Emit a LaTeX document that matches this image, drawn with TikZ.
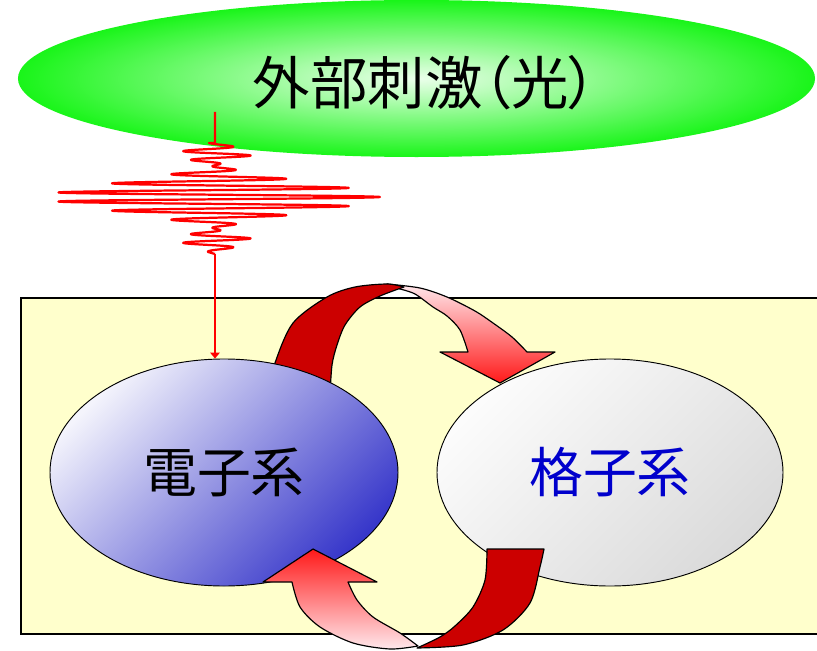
\documentclass[tikz,border=0pt]{standalone}
\usepackage{fontspec}
\setmainfont{Noto Sans CJK JP}[RawFeature=+palt]
\usetikzlibrary{shapes.geometric,arrows.meta}
\definecolor{arrowdark}{RGB}{204,0,0}
\definecolor{arrowpink}{RGB}{255,232,236}
\definecolor{arrowred}{RGB}{255,25,25}
\definecolor{boxyellow}{RGB}{255,255,204}
\definecolor{latticeblue}{RGB}{0,0,204}
\definecolor{greenin}{RGB}{235,255,235}
\definecolor{greenout}{RGB}{25,245,25}
\definecolor{elecin}{RGB}{244,244,252}
\definecolor{elecout}{RGB}{55,55,202}
\definecolor{latin}{RGB}{252,252,252}
\definecolor{latout}{RGB}{218,218,218}
\tikzset{
  bigtext/.style={font=\fontsize{46}{52}\selectfont},
  sysellipse/.style={ellipse, draw=black, line width=0.8pt, inner sep=0pt,
     minimum height=6.81cm, bigtext},
  arrowline/.style={draw=black, line width=1pt, line join=round},
  pinkpart/.style={arrowline, shade},
  darkpart/.style={arrowline, fill=arrowdark},
  wavestroke/.style={draw=red, line width=1.9pt, line join=round},
  lightarrow/.style={draw=red, line width=1.6pt, -{Triangle[length=5pt,width=8pt]}},
}
\begin{document}
\begin{tikzpicture}[x=0.03cm, y=-0.03cm,
  declare function={amp(\t)=165*exp(-min(((\t-197)/20)^2,15))
     -38*exp(-min(((\t-155)/10)^2,15))-38*exp(-min(((\t-239)/10)^2,15));}]
\useasboundingbox (0,0) rectangle (817,651);

% external stimulus
\node[ellipse, inner sep=0pt, minimum width=23.91cm, minimum height=4.71cm,
      inner color=greenin, outer color=greenout] (ext) at (416.5,78.5) {};
\node[font=\fontsize{49}{54}\selectfont] (extlabel) at (425,83) {外部刺激（光）};

% box
\path[fill=boxyellow, draw=black, line width=1.3pt] (21,298) rectangle (830,634);

% upper curved arrow (behind the ellipses)
\path[pinkpart, top color=arrowpink, bottom color=arrowred]
  plot[smooth] coordinates {(387,284) (420,288) (447,297) (475,311) (493,323) (512,337) (527,352)}
  -- (555,352) -- (500,383) -- (440,352) -- (468,352)
  -- plot[smooth] coordinates {(468,352) (460,330) (447,316) (433,307) (415,294) (400,289)}
  -- cycle;
\path[darkpart]
  plot[smooth] coordinates {(268,395) (275,363) (293,323) (327,297) (355,287) (387,284) (404,287)}
  -- plot[smooth] coordinates {(404,287) (380,296) (360,307) (345,325) (337,345) (332,365) (330,395)}
  -- cycle;

% systems
\node[sysellipse, minimum width=10.44cm, top color=elecin, bottom color=elecout,
  shading angle=45] (elec) at (224,472.5) {電子系};
\node[sysellipse, minimum width=10.38cm, top color=latin, bottom color=latout,
  shading angle=45, text=latticeblue] (latt) at (610,472.5) {格子系};

% lower curved arrow (in front of the ellipses)
\path[pinkpart, top color=arrowred, bottom color=arrowpink]
  (263,582) -- (313,549) -- (377,582) -- (348,582)
  -- plot[smooth] coordinates {(348,582) (357,600) (373,617) (400,633) (418,646)}
  -- plot[smooth] coordinates {(418,646) (390,649) (353,643) (320,627) (300,607) (292,582)}
  -- cycle;
\path[darkpart]
  (487,549) -- (544,549)
  -- plot[smooth] coordinates {(544,549) (540,567) (530,603) (503,630) (463,645) (417,648)}
  -- plot[smooth] coordinates {(417,648) (440,637) (455,626) (473,607) (485,580) (487,549)}
  -- cycle;

% light pulse
\coordinate (pulsetop) at (215,112);
\coordinate (pulsebot) at (215,254);
\draw[wavestroke] (pulsetop) -- (215,143)
  -- plot[domain=143:252, samples=600, variable=\t]
     ({215+amp(\t)*cos(39.13*(\t-197))}, {\t})
  -- (pulsebot);
\draw[lightarrow] (pulsebot) -- (pulsebot |- elec.north);
\end{tikzpicture}
\end{document}
